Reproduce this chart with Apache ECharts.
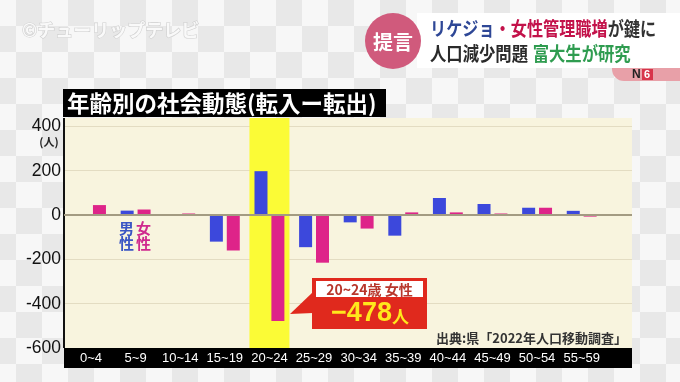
<!DOCTYPE html>
<html>
<head>
<meta charset="utf-8">
<script src="https://cdn.jsdelivr.net/npm/echarts@6/dist/echarts.min.js"></script>
<style>
html,body{margin:0;padding:0;width:680px;height:382px;overflow:hidden;}
body{background-color:#efefef;
background-image:conic-gradient(#e8e8e8 25%, #f7f7f7 0 50%, #e8e8e8 0 75%, #f7f7f7 0);
background-size:52px 52px;background-position:-10px 0;}
#c{width:680px;height:382px;}
</style>
</head>
<body>
<div id="c"></div>
<script>
// ---- data ----
const categories = ['0~4','5~9','10~14','15~19','20~24','25~29','30~34','35~39','40~44','45~49','50~54','55~59'];
const maleValues   = [0, 20, 0, -120, 198, -145, -33, -93, 77, 50, 33, 19];
const femaleValues = [45, 25, 7, -160, -478, -215, -61, 12, 12, 7, 33, -7];
const yTicks = [-600, -400, -200, 0, 200, 400];
const highlightCategory = '20~24';

const yMin = -600, yMax = 438, yStep = 200;
const hiIdx = categories.indexOf(highlightCategory);
const hiTop = categories.map((c, i) => i === hiIdx ? yMax : null);
const hiBottom = categories.map((c, i) => i === hiIdx ? yMin : null);

const FONT = '"Noto Sans CJK JP","Noto Sans",sans-serif';
const chart = echarts.init(document.getElementById('c'), null, {renderer: 'canvas'});

const option = {
  animation: false,
  backgroundColor: 'transparent',
  grid: [
    {left: 64, right: 48, top: 118, bottom: 34, show: true, backgroundColor: '#f8f4de', borderWidth: 0, z: 0},
    {left: 68.7, right: 76, top: 118, bottom: 34}
  ],
  xAxis: [
    {gridIndex: 0, type: 'value', min: 0, max: 1, offset: 10,
     axisLine: {show: true, onZero: false, lineStyle: {color: '#000', width: 20, cap: 'butt'}},
     axisTick: {show: false}, axisLabel: {show: false}, splitLine: {show: false}},
    {gridIndex: 1, type: 'category', data: categories, z: 10,
     axisLine: {show: false}, axisTick: {show: false},
     axisLabel: {color: '#fff', fontSize: 13, fontFamily: '"Liberation Sans",Arial,sans-serif', margin: 4, interval: 0}},
    {gridIndex: 1, type: 'category', data: categories, show: false}
  ],
  yAxis: [
    {gridIndex: 0, type: 'value', min: yMin, max: yMax, interval: yStep,
     axisLine: {show: true, lineStyle: {color: '#111', width: 2, cap: 'butt'}},
     axisTick: {show: false},
     axisLabel: {color: '#111', fontSize: 17.5, margin: 3, fontFamily: '"Liberation Sans",Arial,sans-serif',
       showMaxLabel: false,
       formatter: v => yTicks.indexOf(v) >= 0 ? String(v) : ''},
     splitLine: {show: true, showMinLine: false, showMaxLine: false, lineStyle: {color: '#e3dcc2', width: 1.2}}},
    {gridIndex: 1, type: 'value', min: yMin, max: yMax, interval: yStep, show: false, splitLine: {show: false}}
  ],
  series: [
    {type: 'line', xAxisIndex: 0, yAxisIndex: 0, data: [], silent: true,
     markLine: {silent: true, symbol: 'none', label: {show: false},
       lineStyle: {color: '#a39b82', width: 1.8, type: 'solid'}, data: [{yAxis: 0}]}},
    {type: 'bar', xAxisIndex: 2, yAxisIndex: 1, stack: 'hl', data: hiTop, barWidth: 40,
     itemStyle: {color: '#fbfb36'}, z: 1, silent: true},
    {type: 'bar', xAxisIndex: 2, yAxisIndex: 1, stack: 'hl', data: hiBottom, barWidth: 40,
     itemStyle: {color: '#fbfb36'}, z: 1, silent: true},
    {name: '男性', type: 'bar', xAxisIndex: 1, yAxisIndex: 1, data: maleValues, barWidth: 13, barGap: '30%',
     itemStyle: {color: '#3c48dc'}, z: 3},
    {name: '女性', type: 'bar', xAxisIndex: 1, yAxisIndex: 1, data: femaleValues, barWidth: 13, barGap: '30%',
     itemStyle: {color: '#de2489'}, z: 3}
  ],
  graphic: [
    // watermark
    {type: 'text', x: 22, y: 30, z: 5, style: {text: '©チューリップテレビ', fontSize: 18, fontWeight: 'bold', fontFamily: FONT,
      fill: '#f9f9f9', stroke: '#cfcfcf', lineWidth: 1.2, verticalAlign: 'middle'}},
    // banner
    {type: 'rect', shape: {x: 417, y: 13, width: 263, height: 55}, style: {fill: '#ffffff'}, z: 5},
    {type: 'rect', shape: {x: 612, y: 68, width: 68, height: 13, r: [0, 0, 0, 12]}, style: {fill: '#e8a0a8'}, z: 5},
    {type: 'text', x: 632, y: 69, z: 6, style: {text: 'N', fontSize: 12, fontWeight: 'bold', fill: '#222', fontFamily: '"Liberation Sans",sans-serif'}},
    {type: 'rect', shape: {x: 642, y: 69, width: 11, height: 11}, style: {fill: '#d8344a'}, z: 6},
    {type: 'text', x: 644, y: 69, z: 7, style: {text: '6', fontSize: 11, fontWeight: 'bold', fill: '#fff', fontFamily: '"Liberation Sans",sans-serif'}},
    {type: 'circle', shape: {cx: 393, cy: 41, r: 28}, style: {fill: '#d05a7c'}, z: 6},
    {type: 'text', x: 393, y: 42, z: 7, style: {text: '提言', fontSize: 20, fontWeight: 'bold', fill: '#fff', fontFamily: FONT, align: 'center', verticalAlign: 'middle'}},
    {type: 'group', x: 430, y: 29, scaleX: 0.85, scaleY: 1, z: 7, children: [
      {type: 'text', x: 0, y: 0, z: 7,
       style: {text: '{b|リケジョ}{r|・女性管理職増}{k|が鍵に}', verticalAlign: 'middle', fontFamily: FONT,
         rich: {b: {fontSize: 19, fontWeight: 'bold', fill: '#2e4796', fontFamily: FONT},
                r: {fontSize: 19, fontWeight: 'bold', fill: '#c3124a', fontFamily: FONT},
                k: {fontSize: 19, fontWeight: 'bold', fill: '#333', fontFamily: FONT}}}}
    ]},
    {type: 'group', x: 430, y: 54, scaleX: 0.86, scaleY: 1, z: 7, children: [
      {type: 'text', x: 0, y: 0, z: 7,
       style: {text: '{k|人口減少問題}{s|  }{g|富大生が研究}', verticalAlign: 'middle', fontFamily: FONT,
         rich: {k: {fontSize: 19, fontWeight: 'bold', fill: '#2a2a2a', fontFamily: FONT},
                s: {fontSize: 12, fontFamily: FONT},
                g: {fontSize: 19, fontWeight: 'bold', fill: '#2f9c50', fontFamily: FONT}}}}
    ]},
    // title
    {type: 'rect', shape: {x: 63, y: 89, width: 323, height: 28}, style: {fill: '#000'}, z: 5},
    {type: 'text', x: 67, y: 103.5, z: 6, style: {text: '年齢別の社会動態(転入ー転出)', fontSize: 22.5, fontWeight: 'bold', fill: '#fff', fontFamily: FONT, verticalAlign: 'middle'}},
    // unit
    {type: 'text', x: 49, y: 142, z: 6, style: {text: '(人)', fontSize: 11, fontWeight: 'bold', fill: '#222', fontFamily: FONT, align: 'center', verticalAlign: 'middle'}},
    // series labels
    {type: 'text', x: 126.5, y: 236, z: 6, style: {text: '男\n性', fontSize: 15, lineHeight: 15, fontWeight: 'bold', fill: '#3a55c4', fontFamily: FONT, align: 'center', verticalAlign: 'middle'}},
    {type: 'text', x: 143.5, y: 236, z: 6, style: {text: '女\n性', fontSize: 15, lineHeight: 15, fontWeight: 'bold', fill: '#cf2a8e', fontFamily: FONT, align: 'center', verticalAlign: 'middle'}},
    // callout
    {type: 'polygon', shape: {points: [[313, 292], [290, 314], [313, 313]]}, style: {fill: '#e0291d'}, z: 6},
    {type: 'rect', shape: {x: 312, y: 278, width: 115, height: 51}, style: {fill: '#e0291d'}, z: 6},
    {type: 'rect', shape: {x: 316, y: 281, width: 107, height: 16}, style: {fill: '#fff'}, z: 7},
    {type: 'text', x: 369.5, y: 289.5, z: 8, style: {text: highlightCategory + '歳 女性', fontSize: 14, fontWeight: 'bold', fill: '#b8372c', fontFamily: FONT, align: 'center', verticalAlign: 'middle'}},
    {type: 'text', x: 370, y: 314, z: 8, style: {text: '{n|−' + Math.abs(femaleValues[hiIdx]) + '}{u|人}', align: 'center', verticalAlign: 'middle',
      rich: {n: {fontSize: 27, fontWeight: 'bold', fill: '#ffe81c', fontFamily: '"Liberation Sans",Arial,sans-serif'},
             u: {fontSize: 17, fontWeight: 'bold', fill: '#ffe81c', fontFamily: FONT, padding: [6, 0, 0, 0]}}}},
    // source
    {type: 'text', x: 627, y: 338, z: 6, style: {text: '出典:県「2022年人口移動調査」', fontSize: 13, fontWeight: 'bold', fill: '#333', fontFamily: FONT, align: 'right', verticalAlign: 'middle'}}
  ]
};
chart.setOption(option);
</script>
</body>
</html>
